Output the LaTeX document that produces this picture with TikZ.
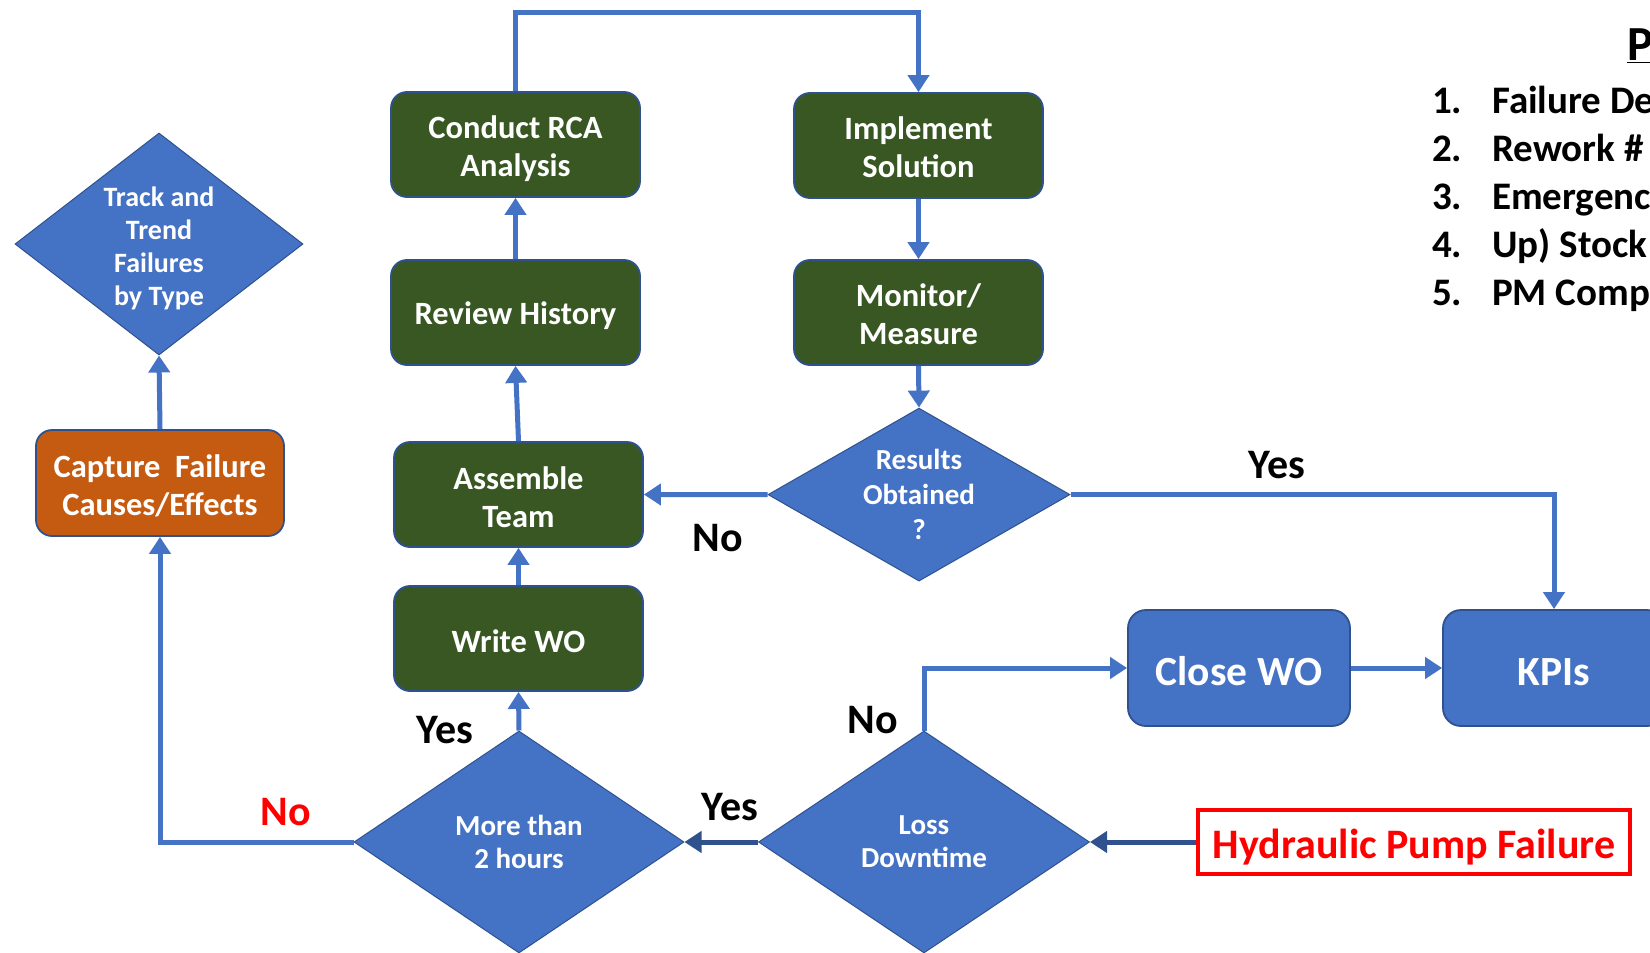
\documentclass[tikz,border=0pt]{standalone}
\usepackage{fontspec}
\setmainfont{Carlito}
\usetikzlibrary{shapes.geometric,arrows.meta}

\definecolor{boxgreen}{RGB}{56,87,35}
\definecolor{flowblue}{RGB}{68,114,196}
\definecolor{edgeblue}{RGB}{47,82,143}
\definecolor{rustorange}{RGB}{197,90,17}
\definecolor{alertred}{RGB}{255,0,0}

% invisible strut that gives the first text line some extra headroom
\newcommand\topgap[1]{\rule{0pt}{#1}}

\begin{document}
\begin{tikzpicture}[x=1pt,y=-1pt,
  stepbox/.style={draw=edgeblue, line width=1.8pt, rounded corners=16pt,
    fill=boxgreen, text=white, align=center, inner sep=0pt,
    minimum width=249pt, minimum height=105pt,
    font=\bfseries\fontsize{32.5}{38}\selectfont},
  capbox/.style={stepbox, fill=rustorange, minimum width=248pt, minimum height=106pt},
  bluebox/.style={draw=edgeblue, line width=1.8pt, rounded corners=18pt,
    fill=flowblue, text=white, inner sep=0pt,
    minimum width=222pt, minimum height=116pt,
    font=\bfseries\fontsize{41.5}{48}\selectfont},
  dia/.style={diamond, draw=edgeblue, line width=1pt, fill=flowblue,
    text=white, align=center, inner sep=0pt,
    font=\bfseries\fontsize{29}{33}\selectfont},
  alertbox/.style={draw=alertred, line width=4pt, fill=white, text=alertred,
    minimum width=432pt, minimum height=64pt, inner sep=0pt,
    font=\bfseries\fontsize{42}{48}\selectfont},
  lbl/.style={font=\bfseries\fontsize{42}{48}\selectfont, text=black, inner sep=0pt},
  listtxt/.style={font=\bfseries\fontsize{39}{47}\selectfont, anchor=base west, inner sep=0pt},
  flow/.style={draw=flowblue, line width=5pt, -{Triangle[width=21pt,length=17pt]}},
  darkflow/.style={flow, draw=edgeblue, -{Triangle[width=21pt,length=17pt]}},
]
\clip (0,0) rectangle (1650,953);
\fill[white] (0,0) rectangle (1650,953);

% process steps
\node[stepbox] (rca)      at (515.5,144.5) {\topgap{31pt}Conduct RCA\\Analysis};
\node[stepbox] (impl)     at (918.5,145.5) {\topgap{26pt}Implement\\Solution};
\node[stepbox] (review)   at (515.5,312.5) {\topgap{30pt}Review History};
\node[stepbox] (monitor)  at (918.5,312.5) {\topgap{26pt}Monitor/\\Measure};
\node[stepbox] (assemble) at (518.5,494.5) {\topgap{28pt}Assemble\\Team};
\node[stepbox] (writewo)  at (518.5,638.5) {\topgap{29pt}Write WO};
\node[capbox]  (capture)  at (160,483)     {\topgap{29pt}Capture~ Failure\\Causes/Effects};

% decisions
\node[dia, minimum width=288pt, minimum height=222pt, shape aspect=1.3,
      font=\bfseries\fontsize{28}{33}\selectfont]
  (track) at (159,244) {\topgap{28pt}Track and\\Trend\\Failures\\by Type};
\node[dia, minimum width=302pt, minimum height=173pt, shape aspect=1.75,
      font=\bfseries\fontsize{29}{35}\selectfont]
  (results) at (919,494.6) {Results\\Obtained\\?};
\node[dia, minimum width=330pt, minimum height=222pt, shape aspect=1.49]
  (more) at (519,842) {More than\\2 hours};
\node[dia, minimum width=331pt, minimum height=222pt, shape aspect=1.49]
  (loss) at (924,842) {Loss\\Downtime};

% closing steps
\node[bluebox] (closewo) at (1239,668) {\topgap{36pt}Close WO};
\node[bluebox] (kpis)    at (1554,668) {\topgap{36pt}KPIs};

% trigger event
\node[alertbox] (pump) at (1414,842) {\topgap{40pt}Hydraulic Pump Failure};

% connectors
\coordinate (loop) at (700,12);
\draw[flow] (rca.north) |- (loop) -| (impl.north);
\draw[flow] (impl.south) -- (monitor.north);
\draw[flow] (monitor.south) -- (results.north);
\draw[flow] (results.west) -- (assemble.east);
\draw[flow] (results.east) -| (kpis.north);
\draw[flow] (review.north) -- (rca.south);
\draw[flow] (assemble.north) -- (review.south);
\draw[flow] (writewo.north) -- (assemble.south);
\draw[flow] (more.north) -- (writewo.south);
\draw[flow] (more.west) -| (capture.south);
\draw[flow] (capture.north) -- (track.south);
\draw[flow] (loss.north) |- (closewo.west);
\draw[flow] (closewo.east) -- (kpis.west);
\draw[darkflow] (pump.west) -- (loss.east);
\draw[darkflow] (loss.west) -- (more.east);

% branch labels
\node[lbl] (yesres)  at (1277,465) {Yes};
\node[lbl] (nores)   at (718,538)  {No};
\node[lbl] (noloss)  at (873,720)  {No};
\node[lbl] (yesloss) at (730,807)  {Yes};
\node[lbl] (yesmore) at (445,730)  {Yes};
\node[lbl, text=alertred] (nomore) at (286,812) {No};

% performance measures list
\node[listtxt, font=\bfseries\fontsize{49}{56}\selectfont] (listhead) at (1627,60) {\underline{Performance}};
\node[listtxt] (n1) at (1432,113) {1.};
\node[listtxt] (t1) at (1492,113) {Failure Detection};
\node[listtxt] (n2) at (1432,161) {2.};
\node[listtxt] (t2) at (1492,161) {Rework \#};
\node[listtxt] (n3) at (1432,209) {3.};
\node[listtxt] (t3) at (1492,209) {Emergency};
\node[listtxt] (n4) at (1432,257) {4.};
\node[listtxt] (t4) at (1492,257) {Up) Stock};
\node[listtxt] (n5) at (1432,305) {5.};
\node[listtxt] (t5) at (1492,305) {PM Compliance};
\end{tikzpicture}
\end{document}
